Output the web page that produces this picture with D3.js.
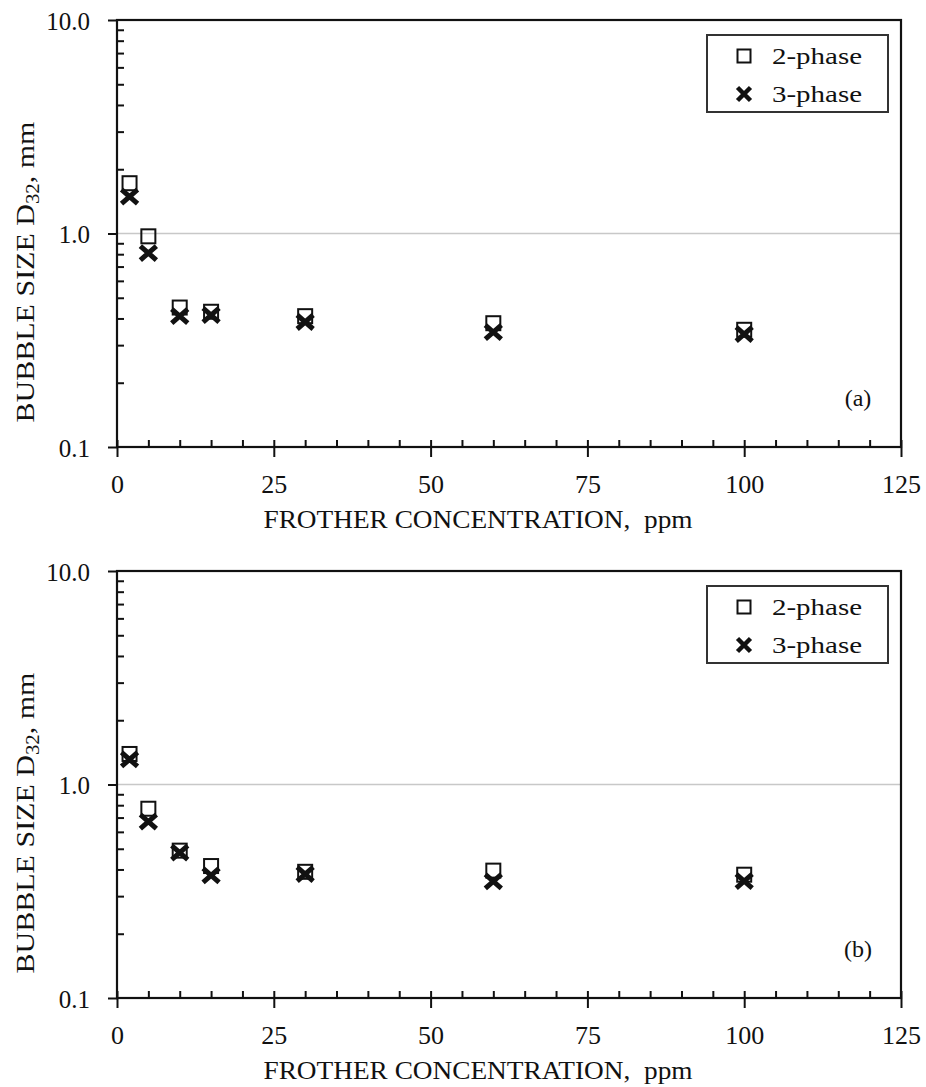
<!DOCTYPE html>
<html>
<head>
<meta charset="utf-8">
<script src="https://cdn.jsdelivr.net/npm/d3@7"></script>
<style>
  body { margin: 0; background: #fff; }
  svg { display: block; }
  text { font-family: "Liberation Serif", "Times New Roman", serif; fill: #111; }
</style>
</head>
<body>
<svg id="chart" width="926" height="1087"></svg>
<script>
// ---- data ----
const concentration = [2, 5, 10, 15, 30, 60, 100];
const panelA_twoPhase   = [1.72, 0.97, 0.45, 0.43, 0.41, 0.38, 0.354];
const panelA_threePhase = [1.49, 0.81, 0.41, 0.415, 0.385, 0.345, 0.338];
const panelB_twoPhase   = [1.39, 0.77, 0.49, 0.415, 0.39, 0.395, 0.378];
const panelB_threePhase = [1.31, 0.67, 0.48, 0.375, 0.38, 0.352, 0.353];
const xTicks = [0, 25, 50, 75, 100, 125];
const yTicks = [0.1, 1, 10];
const seriesNames = ["2-phase", "3-phase"];
const panelLabels = ["(a)", "(b)"];
const xTitle = "FROTHER CONCENTRATION,  ppm";

const svg = d3.select("#chart");
const left = 117, right = 901;
const panels = [
  { top: 20, bottom: 447, two: panelA_twoPhase, three: panelA_threePhase, label: panelLabels[0] },
  { top: 571, bottom: 998, two: panelB_twoPhase, three: panelB_threePhase, label: panelLabels[1] }
];

const x = d3.scaleLinear().domain([0, 125]).range([left, right]);

function squareMarker(g, cx, cy, s) {
  g.append("rect").attr("x", cx - s / 2).attr("y", cy - s / 2)
    .attr("width", s).attr("height", s)
    .attr("fill", "none").attr("stroke", "#111").attr("stroke-width", 2);
}
function crossMarker(g, cx, cy, hw, hh, sw) {
  g.append("path")
    .attr("d", `M${cx - hw},${cy - hh}L${cx + hw},${cy + hh}M${cx - hw},${cy + hh}L${cx + hw},${cy - hh}`)
    .attr("stroke", "#111").attr("stroke-width", sw).attr("fill", "none");
}

panels.forEach(p => {
  const g = svg.append("g");
  const y = d3.scaleLog().domain([0.1, 10]).range([p.bottom, p.top]);

  // gridline at 1.0
  g.append("line").attr("x1", left).attr("x2", right)
    .attr("y1", y(1)).attr("y2", y(1))
    .attr("stroke", "#c8c8c8").attr("stroke-width", 1.5);

  // minor y ticks (inward)
  const minor = [];
  [0.1, 1].forEach(d => { for (let k = 2; k <= 9; k++) minor.push(+(d * k).toFixed(2)); });
  g.append("g").attr("transform", `translate(${left},0)`)
    .call(d3.axisRight(y).tickValues(minor).tickSize(7).tickFormat(""))
    .call(a => a.select(".domain").remove())
    .selectAll("line").attr("stroke", "#111").attr("stroke-width", 2);

  // major y ticks (outward) + labels
  const yAx = g.append("g").attr("transform", `translate(${left},0)`)
    .call(d3.axisLeft(y).tickValues(yTicks).tickSize(9).tickPadding(18).tickFormat(d3.format(".1f")));
  yAx.select(".domain").remove();
  yAx.selectAll("line").attr("stroke", "#111").attr("stroke-width", 2);
  yAx.selectAll("text").attr("font-size", 25).attr("fill", "#111").attr("dy", "0.36em");

  // x minor ticks (upward)
  g.append("g").attr("transform", `translate(0,${p.bottom})`)
    .call(d3.axisTop(x).tickValues(d3.range(0, 126, 5)).tickSize(7).tickFormat(""))
    .call(a => a.select(".domain").remove())
    .selectAll("line").attr("stroke", "#111").attr("stroke-width", 2);

  // x major ticks (downward) + labels
  const xAx = g.append("g").attr("transform", `translate(0,${p.bottom})`)
    .call(d3.axisBottom(x).tickValues(xTicks).tickSize(10).tickPadding(18));
  xAx.select(".domain").remove();
  xAx.selectAll("line").attr("stroke", "#111").attr("stroke-width", 2);
  xAx.selectAll("text").attr("font-size", 26).attr("fill", "#111");

  // frame
  g.append("rect").attr("x", left).attr("y", p.top)
    .attr("width", right - left).attr("height", p.bottom - p.top)
    .attr("fill", "none").attr("stroke", "#111").attr("stroke-width", 2.2);

  // x title
  g.append("text").attr("x", 478).attr("y", p.bottom + 81)
    .attr("text-anchor", "middle").attr("font-size", 26)
    .style("white-space", "pre")
    .attr("textLength", 429).attr("lengthAdjust", "spacingAndGlyphs")
    .text(xTitle);

  // y title
  const yl = g.append("text")
    .attr("transform", `translate(34,${p.top + 252}) rotate(-90)`)
    .attr("text-anchor", "middle").attr("font-size", 26)
    .attr("textLength", 301).attr("lengthAdjust", "spacingAndGlyphs");
  yl.append("tspan").text("BUBBLE SIZE D");
  yl.append("tspan").attr("font-size", 18).attr("dy", 5).text("32");
  yl.append("tspan").attr("dy", -5).text(", mm");

  // data: 2-phase squares then 3-phase crosses
  const pts = g.append("g");
  concentration.forEach((c, i) => squareMarker(pts, x(c), y(p.two[i]), 14));
  concentration.forEach((c, i) => crossMarker(pts, x(c), y(p.three[i]), 8, 7, 5));

  // legend
  const lg = g.append("g");
  lg.append("rect").attr("x", 707).attr("y", p.top + 15).attr("width", 181).attr("height", 77)
    .attr("fill", "#fff").attr("stroke", "#333").attr("stroke-width", 2);
  squareMarker(lg, 744, p.top + 36, 13);
  crossMarker(lg, 744, p.top + 74, 6.5, 6.5, 4.5);
  lg.append("text").attr("x", 772).attr("y", p.top + 44).attr("font-size", 24)
    .attr("textLength", 90).attr("lengthAdjust", "spacingAndGlyphs").text(seriesNames[0]);
  lg.append("text").attr("x", 772).attr("y", p.top + 82).attr("font-size", 24)
    .attr("textLength", 90).attr("lengthAdjust", "spacingAndGlyphs").text(seriesNames[1]);

  // panel label
  g.append("text").attr("x", 858).attr("y", p.top + 386).attr("text-anchor", "middle")
    .attr("font-size", 24).text(p.label);
});
</script>
</body>
</html>
